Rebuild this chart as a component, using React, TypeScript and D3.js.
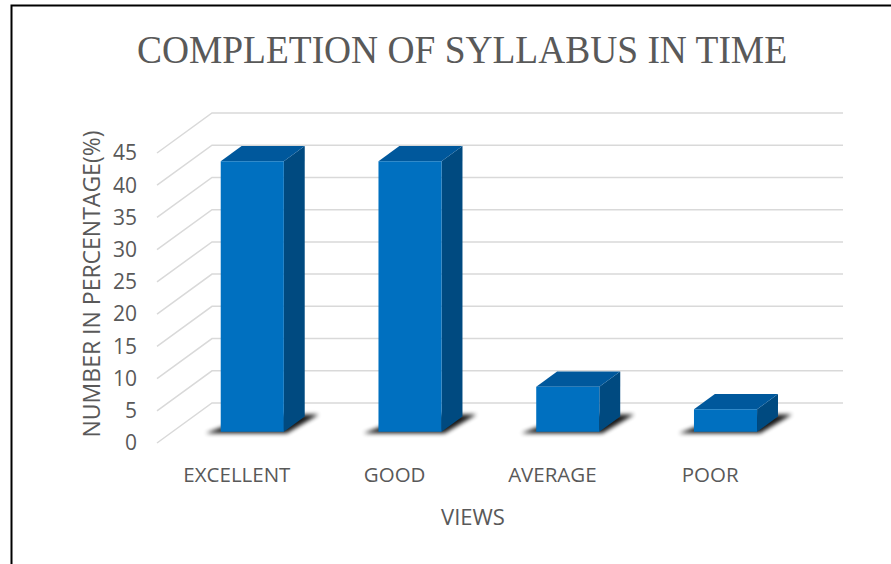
import React from "react";
import * as d3 from "d3";

const categories = ["EXCELLENT", "GOOD", "AVERAGE", "POOR"];
const values = [42, 42, 7, 3.5];
const yTicks = [0, 5, 10, 15, 20, 25, 30, 35, 40, 45];

const W = 891;
const H = 564;
// oblique depth offset from front plane to back wall
const DEPTH_X = 55;
const DEPTH_Y = -40;
const BAR_D0 = 0.28;
const BAR_D1 = 0.66;

const App: React.FC = () => {
  const svgRef = React.useRef<SVGSVGElement>(null);

  React.useEffect(() => {
    if (!svgRef.current) return;
    const svg = d3.select(svgRef.current);
    svg.selectAll("*").remove();

    const x = d3.scaleBand<string>().domain(categories).range([158, 789]);
    const y = d3.scaleLinear().domain([0, 45]).range([443, 153]);
    const proj = (px: number, v: number, d: number): [number, number] => [
      px + DEPTH_X * d,
      y(v) + DEPTH_Y * d,
    ];

    const defs = svg.append("defs");
    defs
      .append("filter")
      .attr("id", "shadowBlur")
      .attr("x", "-20%")
      .attr("y", "-50%")
      .attr("width", "140%")
      .attr("height", "200%")
      .append("feGaussianBlur")
      .attr("stdDeviation", 2.2);

    // frame
    svg
      .append("path")
      .attr("d", `M11.5,${H} L11.5,5.5 L${W},5.5`)
      .attr("fill", "none")
      .attr("stroke", "#000")
      .attr("stroke-width", 2);

    // title
    svg
      .append("text")
      .attr("x", 462)
      .attr("y", 63)
      .attr("text-anchor", "middle")
      .attr("textLength", 650)
      .attr("lengthAdjust", "spacingAndGlyphs")
      .style("font-family", "'Liberation Serif', 'Times New Roman', serif")
      .style("font-size", "40px")
      .style("fill", "#595959")
      .text("COMPLETION OF SYLLABUS IN TIME");

    // gridlines: side wall + back wall
    const wallX = x.range()[0] - 1;
    const grid = svg.append("g");
    yTicks.forEach(t => {
      const [fx, fy] = proj(wallX, t, 0);
      const [bx, by] = proj(wallX, t, 1);
      grid
        .append("path")
        .attr("d", `M${fx},${fy} L${bx},${by} L${x.range()[1] + DEPTH_X - 1},${by}`)
        .attr("fill", "none")
        .attr("stroke", "#d9d9d9")
        .attr("stroke-width", 1.5);
    });

    // y tick labels
    svg
      .append("g")
      .selectAll("text")
      .data(yTicks)
      .join("text")
      .attr("x", 137)
      .attr("y", d => y(d))
      .attr("dy", "0.35em")
      .attr("text-anchor", "end")
      .style("font-family", "'Open Sans', sans-serif")
      .style("font-size", "21px")
      .style("fill", "#595959")
      .text(d => d);

    // bars
    const bw = x.bandwidth() * 0.4;
    const bars = svg.append("g");
    categories.forEach((c, i) => {
      const v = values[i];
      const x0 = (x(c) as number) + x.bandwidth() / 2 - bw / 2;
      const x1 = x0 + bw;
      const fbl = proj(x0, 0, BAR_D0);
      const fbr = proj(x1, 0, BAR_D0);
      const ftl = proj(x0, v, BAR_D0);
      const ftr = proj(x1, v, BAR_D0);
      const btl = proj(x0, v, BAR_D1);
      const btr = proj(x1, v, BAR_D1);
      const bbr = proj(x1, 0, BAR_D1);
      const pts = (arr: [number, number][]) => arr.map(p => p.join(",")).join(" ");

      // floor shadow
      bars
        .append("polygon")
        .attr(
          "points",
          pts([
            [fbl[0] - 15, fbl[1] + 1.5],
            [fbr[0] + 3, fbr[1] + 1.5],
            [bbr[0] + 14, bbr[1] - 2],
            [bbr[0] - bw + 14, bbr[1] - 2],
          ])
        )
        .attr("fill", "#000")
        .attr("opacity", 0.9)
        .attr("filter", "url(#shadowBlur)");

      // side face
      bars
        .append("polygon")
        .attr("points", pts([fbr, ftr, btr, bbr]))
        .attr("fill", "#004a80");
      // top face
      bars
        .append("polygon")
        .attr("points", pts([ftl, ftr, btr, btl]))
        .attr("fill", "#00589c");
      // front face
      bars
        .append("polygon")
        .attr("points", pts([fbl, fbr, ftr, ftl]))
        .attr("fill", "#0070c0");
    });

    // category labels
    svg
      .append("g")
      .selectAll("text")
      .data(categories)
      .join("text")
      .attr("x", d => (x(d) as number) + x.bandwidth() / 2)
      .attr("y", 482)
      .attr("text-anchor", "middle")
      .style("font-family", "'Open Sans', sans-serif")
      .style("font-size", "20.5px")
      .style("fill", "#595959")
      .text(d => d);

    // axis titles
    svg
      .append("text")
      .attr("x", 473)
      .attr("y", 525)
      .attr("text-anchor", "middle")
      .style("font-family", "'Open Sans', sans-serif")
      .style("font-size", "22px")
      .style("fill", "#595959")
      .text("VIEWS");

    svg
      .append("text")
      .attr("transform", "translate(100,284) rotate(-90)")
      .attr("text-anchor", "middle")
      .style("font-family", "'Open Sans', sans-serif")
      .style("font-size", "23px")
      .style("fill", "#595959")
      .text("NUMBER IN PERCENTAGE(%)");
  }, []);

  return (
    <svg
      ref={svgRef}
      width={W}
      height={H}
      style={{ position: "absolute", left: 0, top: 0, background: "#fff" }}
    />
  );
};

export default App;
